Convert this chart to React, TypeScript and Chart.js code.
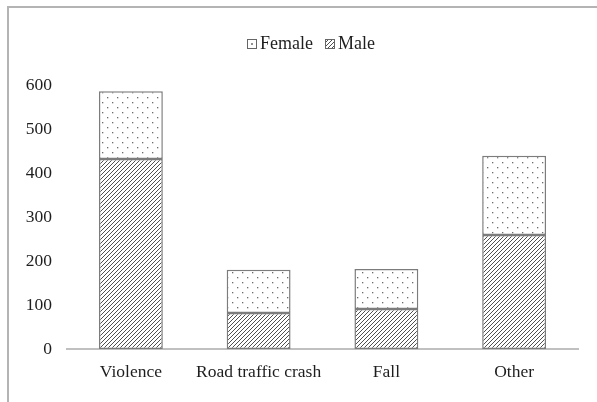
import React, { useEffect, useRef } from "react";
import { Chart, registerables } from "chart.js";
Chart.register(...registerables);

const categories = ["Violence", "Road traffic crash", "Fall", "Other"];
const maleValues = [432, 82, 91, 259];
const femaleValues = [154, 98, 91, 180];
const yTicks = [0, 100, 200, 300, 400, 500, 600];
const seriesNames = ["Male", "Female"];

const FONT = '"Liberation Serif", "Times New Roman", serif';
const TEXT = "#1e1e1e";
const EDGE = "#7c7c7c";

function makeHatch(): CanvasPattern | string {
  const c = document.createElement("canvas");
  c.width = 4;
  c.height = 4;
  const ctx = c.getContext("2d");
  if (!ctx) return "#888";
  ctx.fillStyle = "#ffffff";
  ctx.fillRect(0, 0, 4, 4);
  ctx.strokeStyle = "#505050";
  ctx.lineWidth = 1;
  ctx.beginPath();
  ctx.moveTo(-1, 5);
  ctx.lineTo(5, -1);
  ctx.moveTo(-1, 1);
  ctx.lineTo(1, -1);
  ctx.moveTo(3, 5);
  ctx.lineTo(5, 3);
  ctx.stroke();
  return ctx.createPattern(c, "repeat") || "#888";
}

function makeDots(): CanvasPattern | string {
  const c = document.createElement("canvas");
  c.width = 10;
  c.height = 10;
  const ctx = c.getContext("2d");
  if (!ctx) return "#fff";
  ctx.fillStyle = "#ffffff";
  ctx.fillRect(0, 0, 10, 10);
  ctx.fillStyle = "#6a6a6a";
  ctx.fillRect(2, 2, 1.3, 1.3);
  ctx.fillRect(7, 7, 1.3, 1.3);
  return ctx.createPattern(c, "repeat") || "#fff";
}

const legendPlugin = {
  id: "serifLegend",
  afterDraw(chart: any) {
    const ctx: CanvasRenderingContext2D = chart.ctx;
    const datasets = chart.data.datasets.slice().reverse();
    const box = 9;
    const gap = 4;
    const spacing = 12;
    const cy = 43;
    const centerX = 311;
    ctx.save();
    ctx.font = `18px ${FONT}`;
    ctx.textBaseline = "middle";
    ctx.textAlign = "left";
    const widths = datasets.map((d: any) => ctx.measureText(d.label).width);
    let total = 0;
    widths.forEach((w: number, i: number) => {
      total += box + gap + w + (i < widths.length - 1 ? spacing : 0);
    });
    let x = centerX - total / 2;
    datasets.forEach((d: any, i: number) => {
      const bx = Math.round(x) + 0.5;
      const by = Math.round(cy - box / 2) + 0.5;
      ctx.fillStyle = "#fff";
      ctx.fillRect(bx, by, box, box);
      if (d.label === "Female") {
        ctx.fillStyle = "#555";
        ctx.fillRect(bx + box / 2 - 0.8, by + box / 2 - 0.8, 1.6, 1.6);
      } else {
        ctx.fillStyle = d.backgroundColor;
        ctx.fillRect(bx, by, box, box);
      }
      ctx.strokeStyle = "#666";
      ctx.lineWidth = 1;
      ctx.strokeRect(bx, by, box, box);
      ctx.fillStyle = TEXT;
      ctx.fillText(d.label, x + box + gap, cy + 1);
      x += box + gap + widths[i] + spacing;
    });
    ctx.restore();
  },
};

export default function App() {
  const ref = useRef<HTMLCanvasElement>(null);
  useEffect(() => {
    if (!ref.current) return;
    const hatch = makeHatch();
    const dots = makeDots();
    const font = { family: FONT, size: 17.5 };
    const chart = new Chart(ref.current, {
      type: "bar",
      data: {
        labels: categories,
        datasets: [
          {
            label: seriesNames[0],
            data: maleValues,
            backgroundColor: hatch as any,
            borderColor: EDGE,
            borderWidth: 1.5,
            borderSkipped: false,
          },
          {
            label: seriesNames[1],
            data: femaleValues,
            backgroundColor: dots as any,
            borderColor: EDGE,
            borderWidth: 1.5,
            borderSkipped: false,
          },
        ],
      },
      options: {
        animation: false,
        responsive: false,
        layout: { padding: { top: 85, right: 19, bottom: 0, left: 0 } },
        datasets: { bar: { categoryPercentage: 0.5, barPercentage: 1 } },
        plugins: {
          legend: { display: false },
          tooltip: { enabled: false },
        },
        scales: {
          x: {
            stacked: true,
            grid: { display: false, drawTicks: false },
            border: { display: true, color: "#c0c0c0", width: 2 },
            ticks: { font, color: TEXT, padding: 13, maxRotation: 0, minRotation: 0, autoSkip: false },
            afterFit: (s: any) => {
              s.height = 53;
            },
          },
          y: {
            stacked: true,
            min: 0,
            max: 600,
            grid: { display: false, drawTicks: false },
            border: { display: false },
            ticks: { font, color: TEXT, padding: 15 },
            afterBuildTicks: (s: any) => {
              s.ticks = yTicks.map((v) => ({ value: v }));
            },
            afterFit: (s: any) => {
              s.width = 67;
            },
          },
        },
      },
      plugins: [legendPlugin],
    });
    return () => chart.destroy();
  }, []);
  return (
    <div style={{ position: "fixed", left: 0, top: 0, width: 597, height: 402, background: "#fff", overflow: "hidden" }}>
      <div
        style={{
          position: "absolute",
          left: 7,
          top: 6,
          width: 620,
          height: 420,
          borderLeft: "2px solid #b4b4b4",
          borderTop: "2px solid #b4b4b4",
        }}
      />
      <canvas ref={ref} width={597} height={402} style={{ position: "absolute", left: 0, top: 0 }} />
    </div>
  );
}
